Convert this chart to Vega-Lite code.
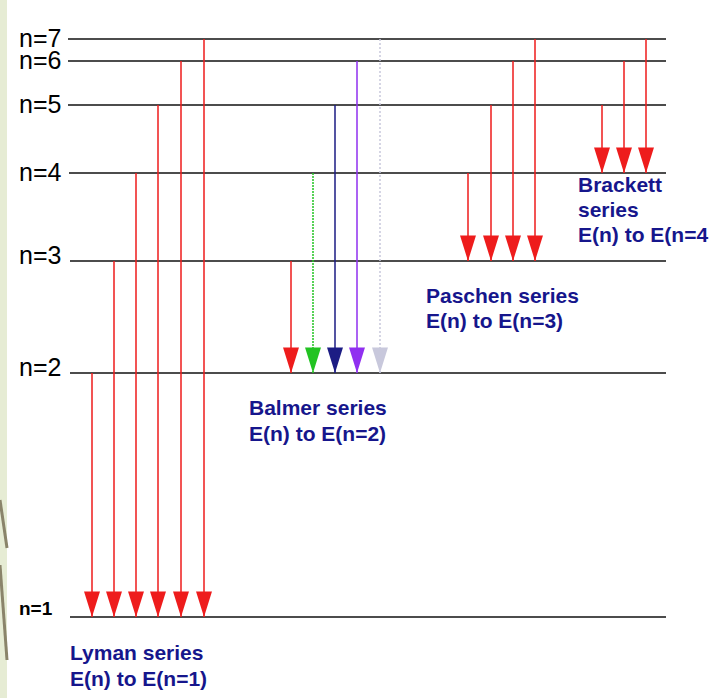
{
  "$schema": "https://vega.github.io/schema/vega-lite/v6.json",
  "width": 711,
  "height": 698,
  "autosize": "none",
  "padding": 0,
  "background": "#ffffff",
  "config": {"view": {"stroke": null}},
  "datasets": {
    "levels": [
      {"n": 1, "label": "n=1", "y": 617, "xa": 70, "xb": 666},
      {"n": 2, "label": "n=2", "y": 373, "xa": 70, "xb": 666},
      {"n": 3, "label": "n=3", "y": 261, "xa": 70, "xb": 666},
      {"n": 4, "label": "n=4", "y": 173, "xa": 69, "xb": 666},
      {"n": 5, "label": "n=5", "y": 105, "xa": 68, "xb": 666},
      {"n": 6, "label": "n=6", "y": 61, "xa": 68, "xb": 666},
      {"n": 7, "label": "n=7", "y": 39, "xa": 68, "xb": 666}
    ],
    "arrows": [
      {"series": "Lyman", "upper": 2, "lower": 1, "x": 92, "from": 373, "to": 617, "hue": "red"},
      {"series": "Lyman", "upper": 3, "lower": 1, "x": 114, "from": 261, "to": 617, "hue": "red"},
      {"series": "Lyman", "upper": 4, "lower": 1, "x": 136, "from": 173, "to": 617, "hue": "red"},
      {"series": "Lyman", "upper": 5, "lower": 1, "x": 158, "from": 105, "to": 617, "hue": "red"},
      {"series": "Lyman", "upper": 6, "lower": 1, "x": 181, "from": 61, "to": 617, "hue": "red"},
      {"series": "Lyman", "upper": 7, "lower": 1, "x": 204, "from": 39, "to": 617, "hue": "red"},
      {"series": "Balmer", "upper": 3, "lower": 2, "x": 291, "from": 261, "to": 373, "hue": "red"},
      {"series": "Balmer", "upper": 4, "lower": 2, "x": 313, "from": 173, "to": 373, "hue": "green"},
      {"series": "Balmer", "upper": 5, "lower": 2, "x": 335, "from": 105, "to": 373, "hue": "blue"},
      {"series": "Balmer", "upper": 6, "lower": 2, "x": 357, "from": 61, "to": 373, "hue": "violet"},
      {"series": "Balmer", "upper": 7, "lower": 2, "x": 380, "from": 39, "to": 373, "hue": "faint"},
      {"series": "Paschen", "upper": 4, "lower": 3, "x": 468, "from": 173, "to": 261, "hue": "red"},
      {"series": "Paschen", "upper": 5, "lower": 3, "x": 491, "from": 105, "to": 261, "hue": "red"},
      {"series": "Paschen", "upper": 6, "lower": 3, "x": 513, "from": 61, "to": 261, "hue": "red"},
      {"series": "Paschen", "upper": 7, "lower": 3, "x": 535, "from": 39, "to": 261, "hue": "red"},
      {"series": "Brackett", "upper": 5, "lower": 4, "x": 602, "from": 105, "to": 173, "hue": "red"},
      {"series": "Brackett", "upper": 6, "lower": 4, "x": 624, "from": 61, "to": 173, "hue": "red"},
      {"series": "Brackett", "upper": 7, "lower": 4, "x": 646, "from": 39, "to": 173, "hue": "red"}
    ],
    "captions": [
      {"text": "Lyman series", "x": 70, "y": 660},
      {"text": "E(n) to E(n=1)", "x": 70, "y": 686},
      {"text": "Balmer series", "x": 249, "y": 415},
      {"text": "E(n) to E(n=2)", "x": 249, "y": 441},
      {"text": "Paschen series", "x": 426, "y": 303},
      {"text": "E(n) to E(n=3)", "x": 426, "y": 328},
      {"text": "Brackett", "x": 578, "y": 192},
      {"text": "series", "x": 578, "y": 217},
      {"text": "E(n) to E(n=4", "x": 578, "y": 242}
    ],
    "edge": [
      {"x": 0, "x2": 7, "y": 0, "y2": 698}
    ],
    "strokes": [
      {"x": 0, "y": 500, "x2": 7, "y2": 548},
      {"x": 0, "y": 565, "x2": 7, "y2": 660}
    ]
  },
  "layer": [
    {
      "data": {"name": "edge"},
      "mark": {"type": "rect", "color": "#e6ecd4"},
      "encoding": {
        "x": {"field": "x", "type": "quantitative", "scale": {"domain": [0, 711], "nice": false, "zero": false}, "axis": null},
        "x2": {"field": "x2"},
        "y": {"field": "y", "type": "quantitative", "scale": {"domain": [0, 698], "nice": false, "zero": false, "reverse": true}, "axis": null},
        "y2": {"field": "y2"}
      }
    },
    {
      "data": {"name": "strokes"},
      "mark": {"type": "rule", "color": "#8a846a", "strokeWidth": 3},
      "encoding": {
        "x": {"field": "x", "type": "quantitative"},
        "x2": {"field": "x2"},
        "y": {"field": "y", "type": "quantitative"},
        "y2": {"field": "y2"}
      }
    },
    {
      "data": {"name": "levels"},
      "mark": {"type": "rule", "color": "#111111", "strokeWidth": 1.5},
      "encoding": {
        "x": {"field": "xa", "type": "quantitative"},
        "x2": {"field": "xb"},
        "y": {"field": "y", "type": "quantitative"}
      }
    },
    {
      "data": {"name": "levels"},
      "transform": [{"filter": "datum.n >= 4"}],
      "mark": {"type": "text", "align": "left", "baseline": "middle", "font": "Liberation Sans", "fontSize": 25, "color": "#000000"},
      "encoding": {
        "x": {"datum": 19, "type": "quantitative"},
        "y": {"field": "y", "type": "quantitative"},
        "text": {"field": "label"}
      }
    },
    {
      "data": {"name": "levels"},
      "transform": [{"filter": "datum.n == 2 || datum.n == 3"}],
      "mark": {"type": "text", "align": "left", "baseline": "alphabetic", "dy": 3, "font": "Liberation Sans", "fontSize": 25, "color": "#000000"},
      "encoding": {
        "x": {"datum": 19, "type": "quantitative"},
        "y": {"field": "y", "type": "quantitative"},
        "text": {"field": "label"}
      }
    },
    {
      "data": {"name": "levels"},
      "transform": [{"filter": "datum.n == 1"}],
      "mark": {"type": "text", "align": "left", "baseline": "alphabetic", "dy": -2, "font": "Liberation Sans", "fontSize": 19, "fontWeight": "bold", "color": "#000000"},
      "encoding": {
        "x": {"datum": 19, "type": "quantitative"},
        "y": {"field": "y", "type": "quantitative"},
        "text": {"field": "label"}
      }
    },
    {
      "data": {"name": "arrows"},
      "mark": {"type": "rule", "strokeWidth": 1.5},
      "encoding": {
        "x": {"field": "x", "type": "quantitative"},
        "y": {"field": "from", "type": "quantitative"},
        "y2": {"field": "to"},
        "color": {"field": "hue", "type": "nominal", "legend": null,
          "scale": {"domain": ["red", "green", "blue", "violet", "faint"], "range": ["#ee1c1c", "#22c322", "#1c1c84", "#9030f0", "#c8c8dc"]}},
        "strokeDash": {"field": "hue", "type": "nominal", "legend": null,
          "scale": {"domain": ["red", "green", "blue", "violet", "faint"], "range": [[1, 0], [2, 1], [1, 0], [1, 0], [2, 2]]}}
      }
    },
    {
      "data": {"name": "arrows"},
      "mark": {"type": "point", "filled": true, "opacity": 1, "shape": "M-1,-3.2L1,-3.2L0,0Z", "size": 256, "strokeWidth": 0},
      "encoding": {
        "x": {"field": "x", "type": "quantitative"},
        "y": {"field": "to", "type": "quantitative"},
        "color": {"field": "hue", "type": "nominal", "legend": null,
          "scale": {"domain": ["red", "green", "blue", "violet", "faint"], "range": ["#ee1c1c", "#22c322", "#1c1c84", "#9030f0", "#c8c8dc"]}}
      }
    },
    {
      "data": {"name": "captions"},
      "mark": {"type": "text", "align": "left", "baseline": "alphabetic", "font": "Liberation Sans", "fontSize": 21, "fontWeight": "bold", "color": "#16168c"},
      "encoding": {
        "x": {"field": "x", "type": "quantitative"},
        "y": {"field": "y", "type": "quantitative"},
        "text": {"field": "text"}
      }
    }
  ]
}
